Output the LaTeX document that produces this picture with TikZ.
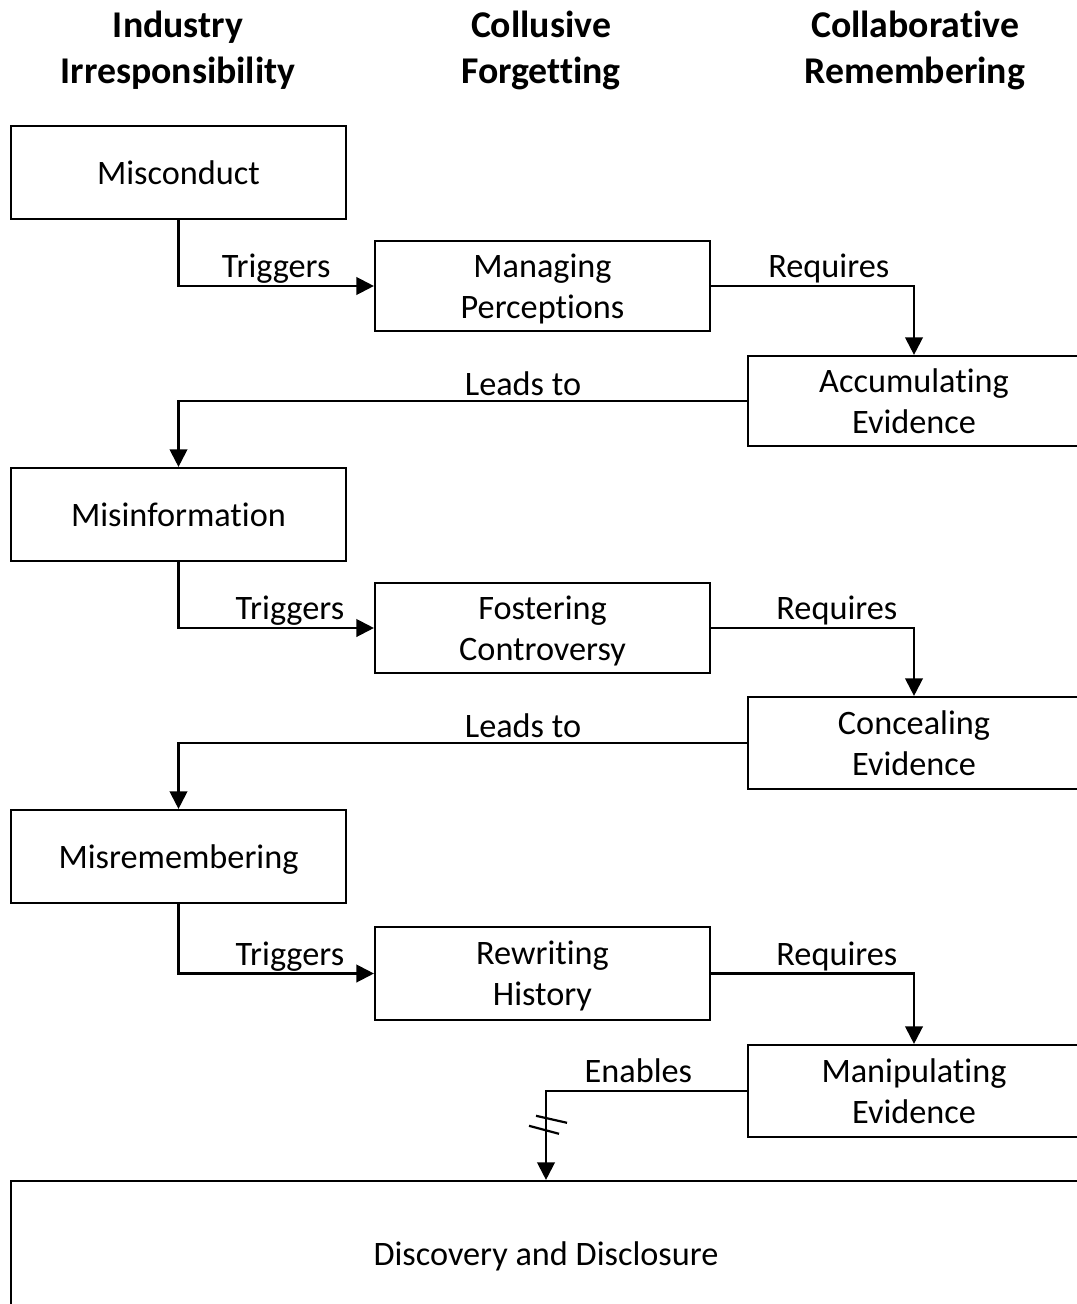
\documentclass[tikz,border=0pt]{standalone}
\usepackage{fontspec}
\setmainfont{Carlito}[Ligatures=NoCommon]
\usetikzlibrary{arrows.meta,calc}
\newcommand{\boxfont}{\fontsize{19.5}{23.4}\selectfont}
\newcommand{\headfont}{\fontsize{21.5}{26}\selectfont\bfseries}

\begin{document}
\begin{tikzpicture}[x=0.02cm,y=-0.02cm,line width=1.25pt,
    >={Triangle[length=10pt,width=10pt]},
    stage/.style={draw,font=\boxfont,align=center,inner sep=0pt,text depth=0pt,minimum width=6.7cm},
    wide/.style={stage,minimum width=6.64cm},
    head/.style={font=\headfont,align=center,text depth=0pt},
    lbl/.style={font=\boxfont,anchor=base,inner sep=0pt,yshift=4.6pt}]
    \useasboundingbox(0,0)rectangle(1076,1304);
    % column heads
    \node[head](hInd) at (178,47){Industry\\Irresponsibility};
    \node[head](hCol) at (541,47){Collusive\\Forgetting};
    \node[head](hRem) at (915,47){Collaborative\\Remembering};
    % stages
    \node[stage,minimum height=1.86cm](misconduct) at (178.5,172.5){Misconduct};
    \node[stage,minimum height=1.8cm](managing) at (542.5,286){Managing\\Perceptions};
    \node[wide,minimum height=1.8cm](accum) at (914,401){Accumulating\\Evidence};
    \node[stage,minimum height=1.86cm](misinfo) at (178.5,514.5){Misinformation};
    \node[stage,minimum height=1.8cm](fostering) at (542.5,628){Fostering\\Controversy};
    \node[wide,minimum height=1.84cm](conceal) at (914,743){Concealing\\Evidence};
    \node[stage,minimum height=1.86cm](misremember) at (178.5,856.5){Misremembering};
    \node[stage,minimum height=1.86cm](rewriting) at (542.5,973.5){Rewriting\\History};
    \node[wide,minimum height=1.84cm](manip) at (914,1091){Manipulating\\Evidence};
    \node[stage,minimum width=21.4cm,minimum height=2.92cm](disc) at (546,1254){Discovery and Disclosure};
    % connectors
    \draw[->](misconduct.south)|-(managing.west)node[lbl,pos=0.75](t1){Triggers};
    \draw[->](managing.east)-|(accum.north)node[lbl,pos=0.29](r1){Requires};
    \draw[->](accum.west)-|(misinfo.north)node[lbl,pos=0.197,yshift=-1.5pt](l1){Leads to};
    \draw[->](misinfo.south)|-(fostering.west)node[lbl,pos=0.785](t2){Triggers};
    \draw[->](fostering.east)-|(conceal.north)node[lbl,pos=0.31](r2){Requires};
    \draw[->](conceal.west)-|(misremember.north)node[lbl,pos=0.197,yshift=-1.5pt](l2){Leads to};
    \draw[->](misremember.south)|-(rewriting.west)node[lbl,pos=0.785](t3){Triggers};
    \draw[->](rewriting.east)-|(manip.north)node[lbl,pos=0.31](r3){Requires};
    \draw[->](manip.west)-|(disc.north)node[lbl,pos=0.27](e1){Enables}coordinate[pos=0.69](brk);
    % break mark
    \draw([shift={(-10,-9)}]brk)--([shift={(21,-2)}]brk);
    \draw([shift={(-17,1)}]brk)--([shift={(13,9)}]brk);
\end{tikzpicture}
\end{document}
